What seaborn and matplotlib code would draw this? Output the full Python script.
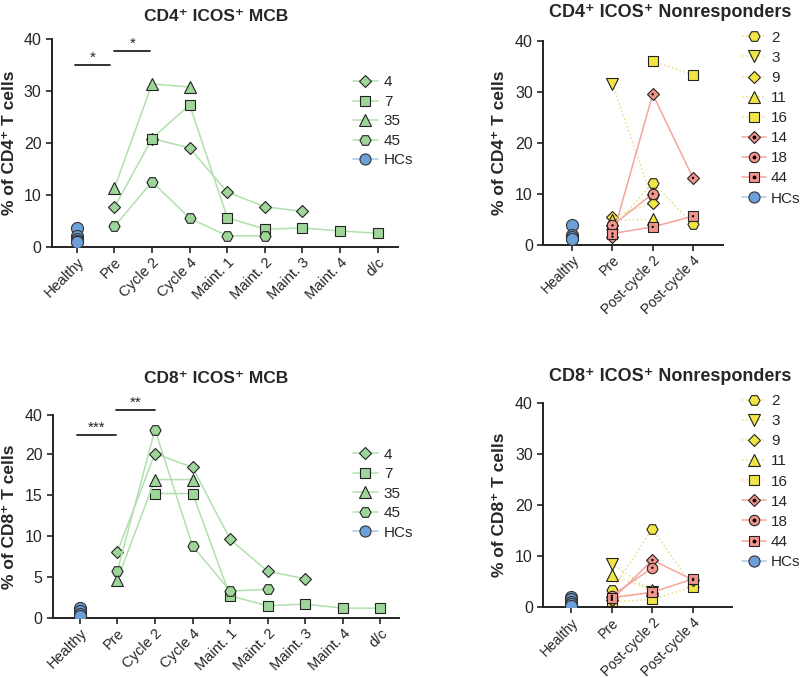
import numpy as np
import pandas as pd
import matplotlib
matplotlib.use('Agg')
import matplotlib.pyplot as plt
import seaborn as sns
from matplotlib.lines import Line2D
from matplotlib.legend_handler import HandlerTuple

sns.set_style('ticks')
plt.rcParams['font.family'] = ['Liberation Sans', 'DejaVu Sans']

nan = np.nan

# x categories
stages_mcb = ['Healthy', 'Pre', 'Cycle 2', 'Cycle 4', 'Maint. 1', 'Maint. 2',
              'Maint. 3', 'Maint. 4', 'd/c']
stages_nr = ['Healthy', 'Pre', 'Post-cycle 2', 'Post-cycle 4']

# CD4 MCB responders
cd4_mcb_4 = [nan, 7.6, 20.8, 19.0, 10.5, 7.7, 6.8, nan, nan]
cd4_mcb_7 = [nan, nan, 20.8, 27.3, 5.6, 3.4, 3.6, 3.05, 2.6]
cd4_mcb_35 = [nan, 11.3, 31.3, 30.7, nan, nan, nan, nan, nan]
cd4_mcb_45 = [nan, 3.9, 12.5, 5.5, 2.1, 2.1, nan, nan, nan]
cd4_hc = [3.7, 2.0, 1.5, 1.2, 1.0]

# CD8 MCB responders
cd8_mcb_4 = [nan, 8.1, 20.3, 18.4, 9.6, 5.7, 4.8, nan, nan]
cd8_mcb_7 = [nan, nan, 15.2, 15.2, 2.7, 1.5, 1.7, 1.2, 1.2]
cd8_mcb_35 = [nan, 4.7, 16.9, 16.9, nan, nan, nan, nan, nan]
cd8_mcb_45 = [nan, 5.8, 32.5, 8.8, 3.3, 3.5, nan, nan, nan]
cd8_hc = [1.2, 0.8, 0.5, 0.3]

# CD4 nonresponders
cd4_nr_2 = [nan, 3.1, 12.2, 4.0]
cd4_nr_3 = [nan, 31.5, 8.7, nan]
cd4_nr_9 = [nan, 5.4, 8.2, nan]
cd4_nr_11 = [nan, 4.8, 5.0, nan]
cd4_nr_16 = [nan, nan, 36.0, 33.3]
cd4_nr_14 = [nan, 1.6, 29.5, 13.1]
cd4_nr_18 = [nan, 3.8, 10.0, nan]
cd4_nr_44 = [nan, 2.2, 3.5, 5.6]
cd4_nr_hc = [3.8, 2.0, 1.5, 1.1]

# CD8 nonresponders
cd8_nr_2 = [nan, 3.3, 15.3, 4.0]
cd8_nr_3 = [nan, 8.4, 3.0, nan]
cd8_nr_9 = [nan, 2.0, 2.8, nan]
cd8_nr_11 = [nan, 6.3, 3.3, nan]
cd8_nr_16 = [nan, 1.0, 1.5, 4.0]
cd8_nr_14 = [nan, 1.4, 9.2, 5.3]
cd8_nr_18 = [nan, 2.2, 7.7, nan]
cd8_nr_44 = [nan, 1.8, 2.9, 5.5]
cd8_nr_hc = [2.0, 1.5, 1.0, 0.5, 0.2]

mcb_ids = ['4', '7', '35', '45']
nr_ids = ['2', '3', '9', '11', '16', '14', '18', '44']

GREEN_FILL = '#9ed69a'
GREEN_LINE = '#b2e0ad'
YEL_FILL = '#f0e545'
YEL_LINE = '#e6df86'
RED_FILL = '#f3958c'
RED_LINE = '#f4a59e'
BLUE = '#6d9fd9'

mcb_style = {
    '4': dict(marker='D', ms=6.5),
    '7': dict(marker='s', ms=6.5),
    '35': dict(marker='^', ms=8),
    '45': dict(marker='H', ms=8),
}
nr_style = {
    '2': dict(marker='H', ms=8, grp='y'),
    '3': dict(marker='v', ms=8, grp='y'),
    '9': dict(marker='D', ms=6, grp='y'),
    '11': dict(marker='^', ms=8, grp='y'),
    '16': dict(marker='s', ms=6.5, grp='y'),
    '14': dict(marker='D', ms=6, grp='r'),
    '18': dict(marker='o', ms=7.5, grp='r'),
    '44': dict(marker='s', ms=6.5, grp='r'),
}


def draw_series(ax, vals, fill, line, ls, marker, ms, dot=False):
    x = np.arange(len(vals))
    y = np.array(vals, dtype=float)
    m = ~np.isnan(y)
    sns.lineplot(x=x[m], y=y[m], ax=ax, color=line, linestyle=ls, lw=1.1,
                 marker=marker, markersize=ms, markerfacecolor=fill,
                 markeredgecolor='#222222', markeredgewidth=0.8, sort=False)
    if dot:
        sns.scatterplot(x=x[m], y=y[m], ax=ax, color='black', s=3,
                        edgecolor='none', zorder=5)


def draw_hc(ax, vals):
    sns.scatterplot(x=np.zeros(len(vals)), y=vals, ax=ax, color=BLUE,
                    s=75, edgecolor='#333333', linewidth=0.8, zorder=4)


def style_axes(ax, cats, xlim, title, tx, pad, tsize=12.5, xsize=10.5):
    ax.set_xticks(range(len(cats)))
    ax.set_xticklabels(cats, rotation=45, ha='right', rotation_mode='anchor',
                       fontsize=xsize)
    ax.set_xlim(*xlim)
    for s in ['top', 'right']:
        ax.spines[s].set_visible(False)
    for s in ['left', 'bottom']:
        ax.spines[s].set_linewidth(1.4)
        ax.spines[s].set_color('#222222')
    ax.tick_params(width=1.2, length=4, color='#222222')
    ax.tick_params(axis='x', pad=2)
    ax.tick_params(axis='y', labelsize=11.5)
    ax.set_xlabel('')
    ax.set_title(title, fontsize=tsize, fontweight='bold', pad=pad, x=tx)


def mcb_legend(fig, x, y):
    handles = []
    for pid in mcb_ids:
        st = mcb_style[pid]
        handles.append(Line2D([], [], color=GREEN_LINE, lw=1.1, marker=st['marker'],
                              ms=st['ms'], mfc=GREEN_FILL, mec='#222222', mew=0.8))
    handles.append(Line2D([], [], color='#a9c6ea', lw=1.1, marker='o', ms=8,
                          mfc=BLUE, mec='#333333', mew=0.8))
    fig.legend(handles, mcb_ids + ['HCs'], loc='upper left',
               bbox_to_anchor=(x, y), frameon=False, fontsize=11,
               handlelength=1.6, handletextpad=0.4, labelspacing=0.36,
               borderpad=0)


def nr_legend(fig, x, y):
    handles = []
    for pid in nr_ids:
        st = nr_style[pid]
        if st['grp'] == 'y':
            handles.append(Line2D([], [], color=YEL_LINE, lw=1.1, ls=':',
                                  marker=st['marker'], ms=st['ms'], mfc=YEL_FILL,
                                  mec='#222222', mew=0.8))
        else:
            h1 = Line2D([], [], color=RED_LINE, lw=1.1, marker=st['marker'],
                        ms=st['ms'], mfc=RED_FILL, mec='#222222', mew=0.8)
            h2 = Line2D([], [], ls='none', marker='o', ms=1.8, mfc='black',
                        mec='black')
            handles.append((h1, h2))
    handles.append(Line2D([], [], color='#a9c6ea', lw=1.1, marker='o', ms=8,
                          mfc=BLUE, mec='#333333', mew=0.8))
    fig.legend(handles, nr_ids + ['HCs'], loc='upper left',
               bbox_to_anchor=(x, y), frameon=False, fontsize=11,
               handlelength=1.6, handletextpad=0.3, labelspacing=0.4,
               borderpad=0, handler_map={tuple: HandlerTuple(ndivide=1, pad=0)})


def sig_bar(ax, x0, x1, y, text):
    ax.plot([x0, x1], [y, y], color='#222222', lw=1.3, clip_on=False)
    ax.text((x0 + x1) / 2, y, text, ha='center', va='bottom', fontsize=11,
            clip_on=False)


fig = plt.figure(figsize=(8, 6.78), dpi=100)

# --- CD4 MCB ---
ax1 = fig.add_axes([0.065, 0.636, 0.433, 0.307])
for pid, vals in zip(mcb_ids, [cd4_mcb_4, cd4_mcb_7, cd4_mcb_35, cd4_mcb_45]):
    st = mcb_style[pid]
    draw_series(ax1, vals, GREEN_FILL, GREEN_LINE, '-', st['marker'], st['ms'])
draw_hc(ax1, cd4_hc)
ax1.set_ylim(0, 40)
ax1.set_yticks([0, 10, 20, 30, 40])
style_axes(ax1, stages_mcb, (-0.66, 8.55), 'CD4⁺ ICOS⁺ MCB', 0.474, 13)
ax1.set_ylabel('% of CD4⁺ T cells', fontsize=12.5, fontweight='bold')
ax1.yaxis.set_label_coords(-0.10, 0.5)
sig_bar(ax1, -0.05, 0.87, 35.0, '*')
sig_bar(ax1, 1.0, 1.95, 37.6, '*')
mcb_legend(fig, 0.432, 0.9)

# --- CD4 nonresponders ---
ax2 = fig.add_axes([0.679, 0.639, 0.225, 0.301])
nr4 = [cd4_nr_2, cd4_nr_3, cd4_nr_9, cd4_nr_11, cd4_nr_16, cd4_nr_14, cd4_nr_18, cd4_nr_44]
for pid, vals in zip(nr_ids, nr4):
    st = nr_style[pid]
    if st['grp'] == 'y':
        draw_series(ax2, vals, YEL_FILL, YEL_LINE, ':', st['marker'], st['ms'])
    else:
        draw_series(ax2, vals, RED_FILL, RED_LINE, '-', st['marker'], st['ms'], dot=True)
draw_hc(ax2, cd4_nr_hc)
ax2.set_ylim(0, 40)
ax2.set_yticks([0, 10, 20, 30, 40])
style_axes(ax2, stages_nr, (-0.72, 3.75), 'CD4⁺ ICOS⁺ Nonresponders', 0.705, 17, 13, 10)
ax2.set_ylabel('% of CD4⁺ T cells', fontsize=12.5, fontweight='bold')
ax2.yaxis.set_label_coords(-0.20, 0.5)
nr_legend(fig, 0.918, 0.966)

# --- CD8 MCB (segmented y axis) ---
def fwd(y):
    y = np.asarray(y, dtype=float)
    return np.where(y <= 20, y, 20 + (y - 20) * 0.24)


def inv(v):
    v = np.asarray(v, dtype=float)
    return np.where(v <= 20, v, 20 + (v - 20) / 0.24)


ax3 = fig.add_axes([0.066, 0.0885, 0.433, 0.2995])
ax3.set_yscale('function', functions=(fwd, inv))
for pid, vals in zip(mcb_ids, [cd8_mcb_4, cd8_mcb_7, cd8_mcb_35, cd8_mcb_45]):
    st = mcb_style[pid]
    draw_series(ax3, vals, GREEN_FILL, GREEN_LINE, '-', st['marker'], st['ms'])
draw_hc(ax3, cd8_hc)
ax3.set_ylim(0, 40)
ax3.set_yticks([0, 5, 10, 15, 20, 40])
ax3.set_yticklabels(['0', '5', '10', '15', '20', '40'])
ax3.minorticks_off()
style_axes(ax3, stages_mcb, (-0.72, 8.5), 'CD8⁺ ICOS⁺ MCB', 0.472, 23)
ax3.set_ylabel('% of CD8⁺ T cells', fontsize=12.5, fontweight='bold')
ax3.yaxis.set_label_coords(-0.104, 0.5)
sig_bar(ax3, -0.08, 0.95, 29.8, '***')
sig_bar(ax3, 0.95, 2.0, 42.4, '**')
mcb_legend(fig, 0.432, 0.351)

# --- CD8 nonresponders ---
ax4 = fig.add_axes([0.679, 0.1047, 0.236, 0.301])
nr8 = [cd8_nr_2, cd8_nr_3, cd8_nr_9, cd8_nr_11, cd8_nr_16, cd8_nr_14, cd8_nr_18, cd8_nr_44]
for pid, vals in zip(nr_ids, nr8):
    st = nr_style[pid]
    if st['grp'] == 'y':
        draw_series(ax4, vals, YEL_FILL, YEL_LINE, ':', st['marker'], st['ms'])
    else:
        draw_series(ax4, vals, RED_FILL, RED_LINE, '-', st['marker'], st['ms'], dot=True)
draw_hc(ax4, cd8_nr_hc)
ax4.set_ylim(0, 40)
ax4.set_yticks([0, 10, 20, 30, 40])
style_axes(ax4, stages_nr, (-0.69, 3.96), 'CD8⁺ ICOS⁺ Nonresponders', 0.67, 16, 13, 10)
ax4.set_ylabel('% of CD8⁺ T cells', fontsize=12.5, fontweight='bold')
ax4.yaxis.set_label_coords(-0.19, 0.5)
nr_legend(fig, 0.918, 0.43)

fig.savefig('out.png', dpi=100)
